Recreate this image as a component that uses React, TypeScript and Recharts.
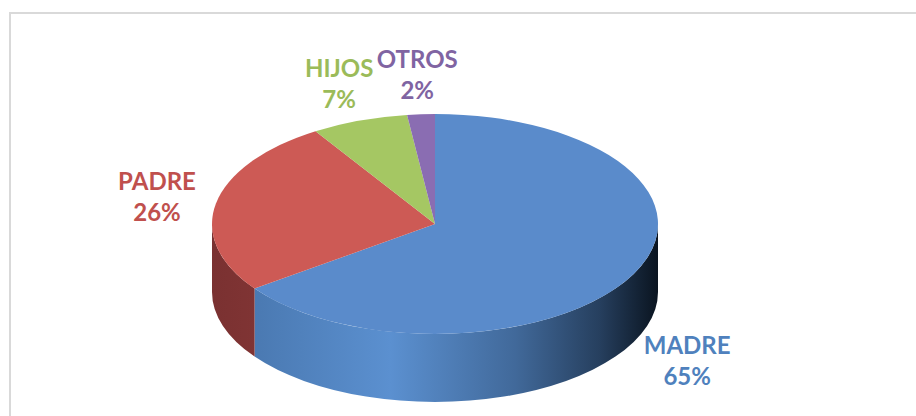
import { PieChart, Pie } from 'recharts';

const categories = ['MADRE', 'PADRE', 'HIJOS', 'OTROS'];
const values = [65, 26, 7, 2];
const topColors = ['#5a8bcb', '#cd5a55', '#a5c763', '#8a6db2'];
const labelColors = ['#4f81bd', '#c0504d', '#9bbb59', '#8064a2'];
const sideStops = [
    ['#4572a8', '#5b90d0', '#41699a', '#263f5e', '#0a1420'],
    ['#7a3131', '#913c3c', '#7a3131', '#5a2424', '#2a1010'],
    ['#7f9a4a', '#9bbb59', '#7f9a4a', '#5a6e34', '#202a10'],
    ['#624c80', '#7a5e9e', '#624c80', '#463660', '#1a1226'],
];

const data = categories.map((name, i) => ({ name, value: values[i] }));

const RATIO = 0.493;
const DEPTH = 68;

const pt = (cx: number, cy: number, rx: number, a: number, dy = 0) => {
    const r = (a * Math.PI) / 180;
    return `${cx + rx * Math.cos(r)},${cy - rx * RATIO * Math.sin(r) + dy}`;
};

const Slice3D = (props: any) => {
    const { cx, cy, outerRadius, startAngle, endAngle, index } = props;
    const rx = outerRadius;
    const ry = rx * RATIO;
    const a0 = Math.min(startAngle, endAngle);
    const a1 = Math.max(startAngle, endAngle);
    const large = a1 - a0 > 180 ? 1 : 0;
    const top = `M${cx},${cy} L${pt(cx, cy, rx, a0)} A${rx},${ry} 0 ${large} 0 ${pt(cx, cy, rx, a1)} Z`;
    // visible front wall = lower half of the ellipse
    const walls: string[] = [];
    for (let k = -2; k <= 1; k++) {
        const lo = Math.max(a0, 180 + k * 360);
        const hi = Math.min(a1, 360 + k * 360);
        if (hi > lo) {
            walls.push(
                `M${pt(cx, cy, rx, lo)} A${rx},${ry} 0 0 0 ${pt(cx, cy, rx, hi)} L${pt(cx, cy, rx, hi, DEPTH)} A${rx},${ry} 0 0 1 ${pt(cx, cy, rx, lo, DEPTH)} Z`
            );
        }
    }
    const gid = `side-${index}`;
    const stops = sideStops[index];
    return (
        <g>
            <defs>
                <linearGradient id={gid} gradientUnits="userSpaceOnUse" x1={cx - rx} y1={0} x2={cx + rx} y2={0}>
                    <stop offset="0" stopColor={stops[0]} />
                    <stop offset="0.4" stopColor={stops[1]} />
                    <stop offset="0.68" stopColor={stops[2]} />
                    <stop offset="0.87" stopColor={stops[3]} />
                    <stop offset="1" stopColor={stops[4]} />
                </linearGradient>
            </defs>
            {walls.map((d, i) => (<path key={i} d={d} fill={`url(#${gid})`} />))}
            <path d={top} fill={topColors[index]} />
        </g>
    );
};

const renderLabel = (props: any) => {
    const { cx, cy, midAngle, outerRadius, index, percent } = props;
    const r = (midAngle * Math.PI) / 180;
    const s = Math.sin(r);
    const x = cx + (outerRadius + 60) * Math.cos(r);
    const y = cy - (outerRadius * RATIO + 40) * s + (s < 0 ? DEPTH : 0);
    return (
        <text x={x} y={y} textAnchor="middle" fill={labelColors[index]} fontFamily="Lato, 'Open Sans', sans-serif" fontWeight="bold" fontSize={24}>
            <tspan x={x} y={y - 6}>{categories[index]}</tspan>
            <tspan x={x} y={y + 25}>{`${Math.round(percent * 100)}%`}</tspan>
        </text>
    );
};

export default function App() {
    return (
        <div style={{ position: 'absolute', left: 0, top: 0, width: 916, height: 416, overflow: 'hidden', background: '#fff' }}>
            <div style={{ position: 'absolute', left: 9, top: 12, width: 940, height: 440, borderTop: '2px solid #d9d9d9', borderLeft: '2px solid #d9d9d9' }} />
            <div style={{ position: 'absolute', left: 0, top: 0 }}>
                <PieChart width={916} height={416} margin={{ top: 0, right: 0, bottom: 0, left: 0 }}>
                    <Pie
                        data={data}
                        dataKey="value"
                        nameKey="name"
                        cx={435}
                        cy={224}
                        outerRadius={223}
                        startAngle={90}
                        endAngle={-270}
                        stroke="none"
                        shape={Slice3D}
                        label={renderLabel}
                        labelLine={false}
                        isAnimationActive={false}
                    />
                </PieChart>
            </div>
        </div>
    );
}
